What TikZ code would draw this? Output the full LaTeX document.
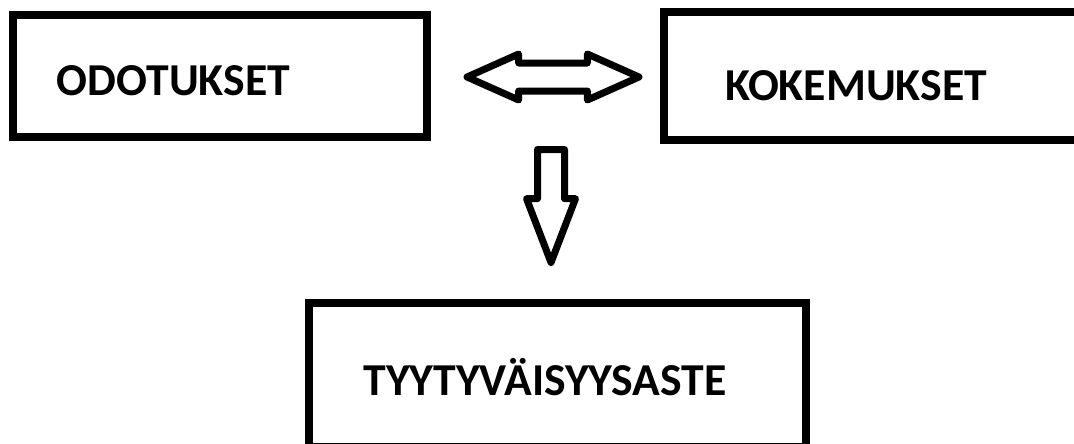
\documentclass[tikz,border=0pt]{standalone}
\usepackage{fontspec}
\setmainfont{Carlito}
\usetikzlibrary{positioning,shapes.arrows}

\begin{document}
\begin{tikzpicture}[
  x=0.02cm, y=-0.02cm,
  boxFrame/.style ={rectangle, draw=black, line width=0.16cm, inner sep=0pt},
  boxText/.style  ={font=\bfseries\fontsize{26}{30}\selectfont, inner sep=0pt, anchor=base},
  twoWay/.style   ={double arrow, draw=black, line width=0.14cm, line join=round,
                    inner xsep=0pt, inner ysep=0.21cm, double arrow head extend=0.18cm,
                    double arrow tip angle=48, minimum height=3.44cm},
  % rotated shape: the shaft width now comes from inner xsep
  oneWay/.style   ={single arrow, draw=black, line width=0.14cm, line join=round,
                    inner xsep=0.2cm, inner ysep=0pt, single arrow head extend=0.22cm,
                    single arrow tip angle=42, minimum height=2.26cm, shape border rotate=270},
]
% canvas in pixels of the original (y down), frames may run off the edge
\clip (0,0) rectangle (1074,443);
% the three frames
\node[boxFrame, minimum width=8.28cm, minimum height=2.44cm] (odot) at (220,76) {};
\node[boxFrame, minimum width=8.28cm, minimum height=2.56cm] (koke) at (871,76) {};
\node[boxFrame, minimum width=9.94cm, minimum height=2.88cm] (tyyt) at (557.5,375) {};
% labels (not centred in their frames)
\node[boxText] (odotTxt) at (173.5,95)  {ODOTUKSET};
\node[boxText] (kokeTxt) at (856,100)   {KOKEMUKSET};
\node[boxText] (tyytTxt) at (545,395)   {TYYTYVÄISYYSASTE};
% hollow block arrows
\node[twoWay] (vertailu) at (553,77) {};
\node[oneWay, anchor=tail] (tulos) at (551,146) {};
\end{tikzpicture}
\end{document}
